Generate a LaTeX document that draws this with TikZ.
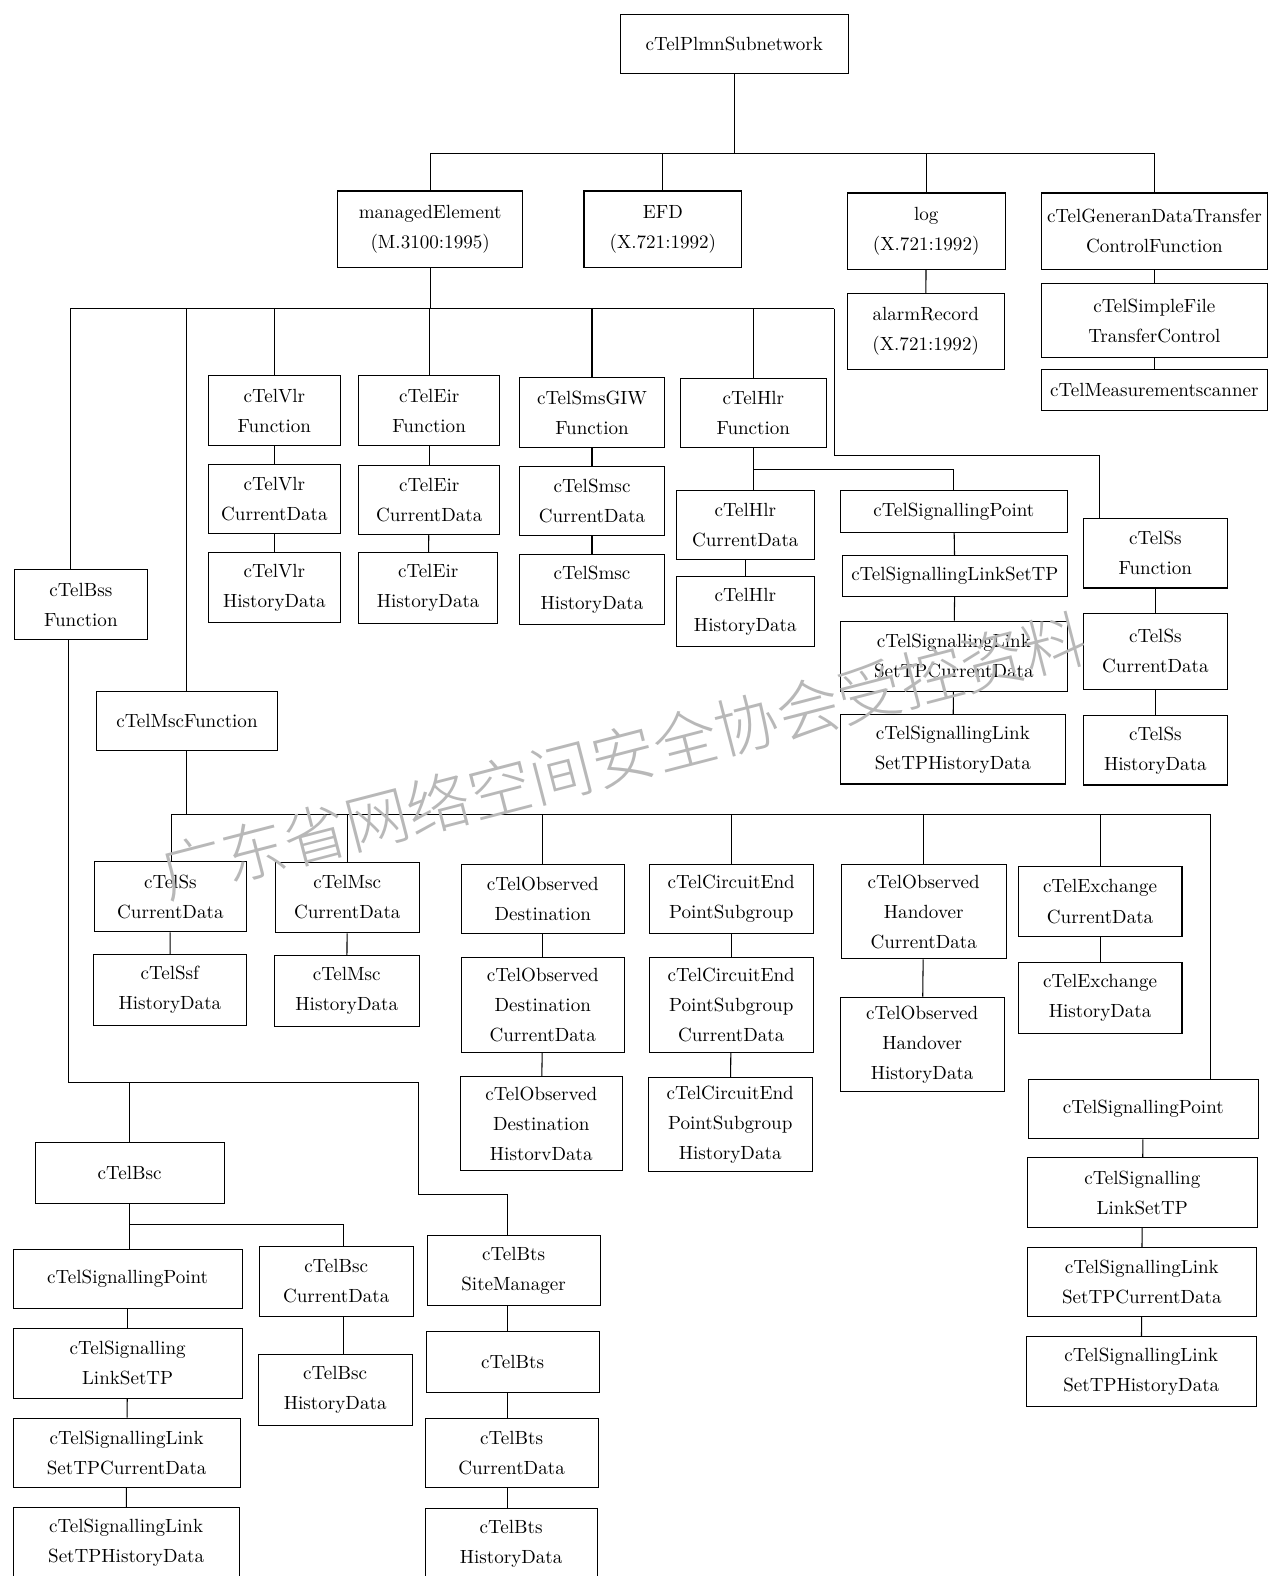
\documentclass[tikz,border=0pt]{standalone}
\usepackage{fontspec}
\newfontfamily\wmfont{Noto Sans CJK SC Light}
\begin{document}
\begin{tikzpicture}[x=0.02cm,y=-0.02cm,line width=0.6pt,
	box/.style={draw,inner sep=0pt,align=center,font=\fontsize{10.8}{17}\selectfont},
	corners/.style n args={4}{minimum width={(#3-#1)*0.02cm},minimum height={(#4-#2)*0.02cm},at={({(#1+#3)/2},{(#2+#4)/2})}},
	watermark/.style={text=black!28,font=\wmfont\fontsize{36}{36}\selectfont,rotate=14.5}]
	\useasboundingbox (0,0) rectangle (1262,1568);
	%		\draw[thin,color=gray!20](0,0)grid[step=100](1262,1568);
	\coordinate (y1) at (0,153);
	\coordinate (y2) at (0,307);
	\coordinate (y3) at (0,467);
	\coordinate (y5) at (0,810);
	% top
	\node[box,corners={617}{14}{844}{73}] (plmn) {cTelPlmnSubnetwork};
	\node[box,corners={336}{190}{520}{266}] (me) {managedElement\\(M.3100:1995)};
	\node[box,corners={581}{190}{738}{266}] (efd) {EFD\\(X.721:1992)};
	\node[box,corners={843}{192}{1000}{268}] (log) {log\\(X.721:1992)};
	\node[box,corners={1036}{192}{1261}{268}] (gdt) {cTelGeneranDataTransfer\\ControlFunction};
	\node[box,corners={843}{292}{999}{368}] (alarm) {alarmRecord\\(X.721:1992)};
	\node[box,corners={1036}{282}{1261}{356}] (sft) {cTelSimpleFile\\TransferControl};
	\node[box,corners={1036}{368}{1261}{408}] (meas) {cTelMeasurementscanner};
	\draw (plmn) -- (plmn |- y1);
	\draw (me) -- (me |- y1) -| (gdt);
	\draw (efd) -- (efd |- y1);
	\draw (log) -- (log |- y1);
	\draw (log) -- (alarm);
	\draw (gdt) -- (sft);
	\draw (sft) -- (meas);
	% managedElement
	\node[box,corners={207}{374}{339}{443}] (vlrf) {cTelVlr\\Function};
	\node[box,corners={207}{462}{339}{531}] (vlrc) {cTelVlr\\CurrentData};
	\node[box,corners={207}{550}{339}{619}] (vlrh) {cTelVlr\\HistoryData};
	\node[box,corners={357}{374}{497}{443}] (eirf) {cTelEir\\Function};
	\node[box,corners={357}{463}{497}{532}] (eirc) {cTelEir\\CurrentData};
	\node[box,corners={357}{550}{495}{620}] (eirh) {cTelEir\\HistoryData};
	\node[box,corners={517}{376}{661}{445}] (smsf) {cTelSmsGIW\\Function};
	\node[box,corners={517}{464}{661}{533}] (smsc) {cTelSmsc\\CurrentData};
	\node[box,corners={517}{552}{661}{621}] (smsh) {cTelSmsc\\HistoryData};
	\node[box,corners={677}{377}{822}{445}] (hlrf) {cTelHlr\\Function};
	\node[box,corners={673}{488}{810}{557}] (hlrc) {cTelHlr\\CurrentData};
	\node[box,corners={673}{574}{810}{643}] (hlrh) {cTelHlr\\HistoryData};
	\node[box,corners={836}{488}{1062}{530}] (hsp) {cTelSignallingPoint};
	\node[box,corners={838}{553}{1062}{593}] (hls) {cTelSignallingLinkSetTP};
	\node[box,corners={836}{618}{1062}{688}] (hlc) {cTelSignallingLink\\SetTPCurrentData};
	\node[box,corners={836}{711}{1060}{780}] (hlh) {cTelSignallingLink\\SetTPHistoryData};
	\node[box,corners={1078}{516}{1221}{585}] (ssf) {cTelSs\\Function};
	\node[box,corners={1078}{610}{1221}{686}] (ssc) {cTelSs\\CurrentData};
	\node[box,corners={1078}{712}{1221}{781}] (ssh) {cTelSs\\HistoryData};
	\node[box,corners={14}{567}{147}{636}] (bss) {cTelBss\\Function};
	\node[box,corners={96}{688}{276}{747}] (msc) {cTelMscFunction};
	\coordinate (bl) at (70,307);
	\coordinate (br) at (830,307);
	\coordinate (sse) at (1094,453);
	\draw (me) -- (me |- y2);
	\draw (bl) -- (br);
	\draw (bl) -- (bl |- bss.north);
	\draw (msc) -- (msc |- y2);
	\draw (vlrf) -- (vlrf |- y2);
	\draw (eirf) -- (eirf |- y2);
	\draw (smsf) -- (smsf |- y2);
	\draw (hlrf) -- (hlrf |- y2);
	\draw (br) |- (sse) -- (sse |- ssf.north);
	\draw (vlrf) -- (vlrc); \draw (vlrc) -- (vlrh);
	\draw (eirf) -- (eirc); \draw (eirc) -- (eirh);
	\draw (smsf) -- (smsc); \draw (smsc) -- (smsh);
	\draw (hlrf) -- (hlrf |- hlrc.north);
	\draw (hlrf |- y3) -| (hsp);
	\draw (hlrc) -- (hlrh);
	\draw (hsp) -- (hls); \draw (hls) -- (hlc); \draw (hlc) -- (hlh);
	\draw (ssf) -- (ssc); \draw (ssc) -- (ssh);
	% cTelMscFunction
	\node[box,corners={94}{857}{245}{927}] (mssc) {cTelSs\\CurrentData};
	\node[box,corners={93}{950}{245}{1020}] (mssh) {cTelSsf\\HistoryData};
	\node[box,corners={274}{858}{417}{928}] (mmc) {cTelMsc\\CurrentData};
	\node[box,corners={273}{951}{417}{1021}] (mmh) {cTelMsc\\HistoryData};
	\node[box,corners={459}{860}{621}{929}] (odf) {cTelObserved\\Destination};
	\node[box,corners={459}{953}{621}{1047}] (odc) {cTelObserved\\Destination\\CurrentData};
	\node[box,corners={458}{1071}{619}{1165}] (odh) {cTelObserved\\Destination\\HistorvData};
	\node[box,corners={646}{860}{809}{929}] (cef) {cTelCircuitEnd\\PointSubgroup};
	\node[box,corners={646}{953}{809}{1047}] (cec) {cTelCircuitEnd\\PointSubgroup\\CurrentData};
	\node[box,corners={645}{1072}{808}{1166}] (ceh) {cTelCircuitEnd\\PointSubgroup\\HistoryData};
	\node[box,corners={837}{860}{1001}{954}] (ohc) {cTelObserved\\Handover\\CurrentData};
	\node[box,corners={836}{992}{999}{1086}] (ohh) {cTelObserved\\Handover\\HistoryData};
	\node[box,corners={1013}{862}{1176}{932}] (exc) {cTelExchange\\CurrentData};
	\node[box,corners={1013}{958}{1176}{1028}] (exh) {cTelExchange\\HistoryData};
	\node[box,corners={1023}{1074}{1252}{1133}] (msp) {cTelSignallingPoint};
	\node[box,corners={1022}{1152}{1251}{1221}] (mls) {cTelSignalling\\LinkSetTP};
	\node[box,corners={1022}{1241}{1250}{1310}] (mlc) {cTelSignallingLink\\SetTPCurrentData};
	\node[box,corners={1021}{1330}{1250}{1399}] (mlh) {cTelSignallingLink\\SetTPHistoryData};
	\coordinate (m1) at (171,810);
	\coordinate (m2) at (1204,810);
	\draw (msc) -- (msc |- y5);
	\draw (m1) -- (m2) -- (m2 |- msp.north);
	\draw (m1) -- (m1 |- mssc.north);
	\draw (mmc) -- (mmc |- y5);
	\draw (odf) -- (odf |- y5);
	\draw (cef) -- (cef |- y5);
	\draw (ohc) -- (ohc |- y5);
	\draw (exc) -- (exc |- y5);
	\draw (mssc) -- (mssh);
	\draw (mmc) -- (mmh);
	\draw (odf) -- (odc); \draw (odc) -- (odh);
	\draw (cef) -- (cec); \draw (cec) -- (ceh);
	\draw (ohc) -- (ohh);
	\draw (exc) -- (exh);
	\draw (msp) -- (mls); \draw (mls) -- (mlc); \draw (mlc) -- (mlh);
	% cTelBssFunction
	\node[box,corners={35}{1137}{223}{1197}] (bsc) {cTelBsc};
	\node[box,corners={13}{1243}{241}{1302}] (bsp) {cTelSignallingPoint};
	\node[box,corners={13}{1322}{241}{1391}] (bls) {cTelSignalling\\LinkSetTP};
	\node[box,corners={13}{1411}{239}{1480}] (blc) {cTelSignallingLink\\SetTPCurrentData};
	\node[box,corners={13}{1500}{238}{1570}] (blh) {cTelSignallingLink\\SetTPHistoryData};
	\node[box,corners={258}{1240}{411}{1310}] (bcc) {cTelBsc\\CurrentData};
	\node[box,corners={257}{1348}{410}{1418}] (bch) {cTelBsc\\HistoryData};
	\node[box,corners={425}{1229}{597}{1299}] (bsm) {cTelBts\\SiteManager};
	\node[box,corners={424}{1325}{596}{1385}] (bts) {cTelBts};
	\node[box,corners={423}{1411}{595}{1480}] (btc) {cTelBts\\CurrentData};
	\node[box,corners={423}{1501}{594}{1570}] (bth) {cTelBts\\HistoryData};
	\coordinate (q1) at (68,1077);
	\coordinate (q2) at (416,1077);
	\coordinate (q3) at (505,1188);
	\coordinate (q4) at (342,1218);
	\draw (bss.south -| q1) -- (q1) -- (q2) |- (q3) -- (q3 |- bsm.north);
	\draw (bsc) -- (bsc |- q1);
	\draw (bsc) -- (bsc |- q4) -- (q4) -- (q4 |- bcc.north);
	\draw (bsc |- q4) -- (bsc |- bsp.north);
	\draw (bsp) -- (bls); \draw (bls) -- (blc); \draw (blc) -- (blh);
	\draw (bcc.south -| q4) -- (q4 |- bch.north);
	\draw (bsm.south -| q3) -- (q3 |- bts.north);
	\draw (bts.south -| q3) -- (q3 |- btc.north);
	\draw (btc.south -| q3) -- (q3 |- bth.north);
	\node[watermark] (wm) at (620,752) {广东省网络空间安全协会受控资料};
\end{tikzpicture}
\end{document}
